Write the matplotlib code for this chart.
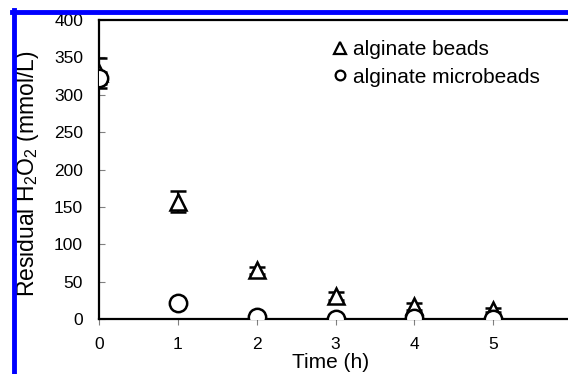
import matplotlib.pyplot as plt
from matplotlib.lines import Line2D

plt.rcParams['font.family'] = ['Liberation Sans', 'DejaVu Sans']
plt.rcParams['mathtext.fontset'] = 'custom'
plt.rcParams['mathtext.rm'] = 'Liberation Sans'
plt.rcParams['mathtext.default'] = 'regular'

# time points (h)
time = [0, 1, 2, 3, 4, 5]
# residual H2O2 (mmol/L)
beads = [329, 157, 65, 31, 17, 12]
beads_err = [20, 14, 5, 5, 5, 3]
micro = [322, 22, 3, 0, 2, 0]
micro_err = [8, 2, 2, 1, 1, 1]


def main():
    fig = plt.figure(figsize=(5.68, 3.74), dpi=100)
    ax = fig.add_axes([0.1743, 0.147, 0.833, 0.7995])

    ax.errorbar(time, beads, yerr=beads_err, fmt='^', ms=12, mfc='white',
                mec='black', mew=1.8, ecolor='black', elinewidth=1.5,
                capsize=5.5, capthick=1.8, label='alginate beads', zorder=3)
    ax.errorbar(time, micro, yerr=micro_err, fmt='o', ms=12.5, mfc='white',
                mec='black', mew=1.8, ecolor='black', elinewidth=1,
                capsize=5.5, capthick=1.5, label='alginate microbeads', zorder=4)

    ax.set_xlim(0, 6)
    ax.set_ylim(0, 400)
    ax.set_xticks([0, 1, 2, 3, 4, 5])
    ax.set_yticks(range(0, 401, 50))
    ax.tick_params(axis='y', direction='in', length=4, color='gray',
                   pad=11.5, labelsize=12.5)
    ax.tick_params(axis='x', direction='out', length=4, color='gray',
                   pad=9, labelsize=12.5)
    for s in ['left', 'bottom', 'top']:
        ax.spines[s].set_linewidth(1.6)
    ax.spines['right'].set_visible(False)

    ax.set_xlabel('Time (h)', fontsize=15)
    ax.xaxis.set_label_coords(0.49, -0.115)
    ax.set_ylabel('Residual H$_2$O$_2$ (mmol/L)', fontsize=16.5)
    ax.yaxis.set_label_coords(-0.122, 0.485)

    handles = [Line2D([], [], ls='', marker='^', ms=8, mfc='white', mec='black', mew=1.6),
               Line2D([], [], ls='', marker='o', ms=7, mfc='white', mec='black', mew=1.6)]
    ax.legend(handles, ['alginate beads', 'alginate microbeads'], loc='upper left',
              bbox_to_anchor=(0.467, 0.968), frameon=False, fontsize=15,
              borderpad=0, handletextpad=0.2, handlelength=0.9, labelspacing=0.42)

    # blue frame
    fig.add_artist(Line2D([12 / 568, 1], [1 - 12 / 374, 1 - 12 / 374],
                          color='#0000ff', lw=3.5, transform=fig.transFigure))
    fig.add_artist(Line2D([14 / 568, 14 / 568], [0, 1 - 10 / 374],
                          color='#0000ff', lw=3.5, transform=fig.transFigure))

    fig.savefig('out.png', dpi=100)


if __name__ == "__main__":
    main()
